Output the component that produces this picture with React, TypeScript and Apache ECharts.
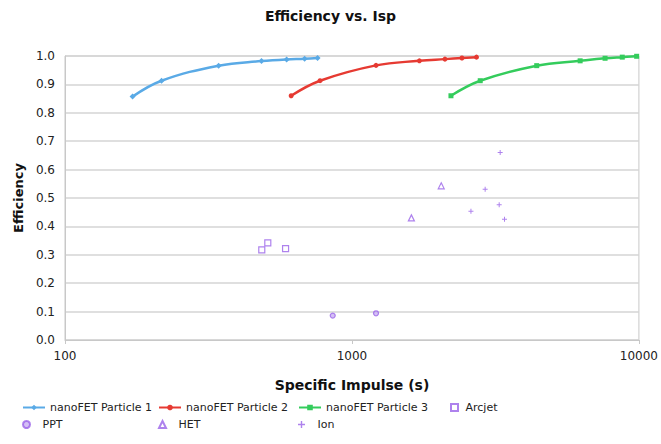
import React, { useEffect, useRef } from "react";
import * as echarts from "echarts";

const p1Isp = [172, 217, 343, 484, 592, 684, 759];
const p1Eff = [0.857, 0.913, 0.966, 0.982, 0.988, 0.99, 0.993];
const p2Isp = [614, 774, 1213, 1718, 2109, 2417, 2716];
const p2Eff = [0.86, 0.913, 0.967, 0.983, 0.989, 0.993, 0.996];
const p3Isp = [2213, 2799, 4404, 6240, 7622, 8750, 9820];
const p3Eff = [0.86, 0.913, 0.966, 0.983, 0.992, 0.996, 0.999];
const arcjetIsp = [485, 509, 587];
const arcjetEff = [0.317, 0.342, 0.322];
const pptIsp = [857, 1213];
const pptEff = [0.086, 0.094];
const hetIsp = [1611, 2047];
const hetEff = [0.43, 0.543];
const ionIsp = [3285, 2912, 3259, 2598, 3401];
const ionEff = [0.66, 0.531, 0.476, 0.453, 0.425];

const FONT = "DejaVu Sans";
const PURPLE = "#9a63e8";
const PLUS = "path://M4,0 L6,0 L6,4 L10,4 L10,6 L6,6 L6,10 L4,10 L4,6 L0,6 L0,4 L4,4 Z";
const SQUARE = "path://M0,0 L10,0 L10,10 L0,10 Z";
const TRI = "path://M5,0 L10,10 L0,10 Z";

const zip = (a: number[], b: number[]) => a.map((v, i) => [v, b[i]]);

export default function App() {
  const ref = useRef<HTMLDivElement>(null);
  useEffect(() => {
    const chart = echarts.init(ref.current!, null, { renderer: "svg" });
    const legendBase = {
      itemWidth: 22,
      itemHeight: 7,
      symbolKeepAspect: true,
      textStyle: { fontFamily: FONT, fontSize: 11, color: "#222" },
      padding: 0,
      itemGap: 4,
    };
    chart.setOption({
      animation: false,
      backgroundColor: "#fff",
      title: {
        text: "Efficiency vs. Isp",
        left: "center",
        top: 4,
        textStyle: { fontFamily: FONT, fontSize: 14, fontWeight: "bold", color: "#111" },
      },
      legend: [
        { ...legendBase, left: 22, top: 402, data: ["nanoFET Particle 1"] },
        { ...legendBase, left: 158, top: 402, data: ["nanoFET Particle 2"] },
        { ...legendBase, left: 298, top: 402, data: ["nanoFET Particle 3"] },
        { ...legendBase, left: 450, top: 402, itemWidth: 12, data: ["Arcjet"] },
        { ...legendBase, left: 22, top: 419, data: ["PPT"] },
        { ...legendBase, left: 158, top: 419, data: ["HET"] },
        { ...legendBase, left: 298, top: 419, data: ["Ion"] },
      ],
      grid: {
        left: 65,
        right: 21,
        top: 56,
        bottom: 104,
        show: true,
        borderColor: "#c8c8c8",
        borderWidth: 1,
      },
      xAxis: {
        type: "log",
        logBase: 10,
        min: 100,
        max: 10000,
        name: "Specific Impulse (s)",
        nameLocation: "middle",
        nameGap: 38,
        nameTextStyle: { fontFamily: FONT, fontSize: 14, fontWeight: "bold", color: "#111" },
        axisLine: { show: true, lineStyle: { color: "#c8c8c8" } },
        axisTick: { show: true, length: 4, lineStyle: { color: "#c8c8c8" } },
        splitLine: { show: false },
        axisLabel: {
          fontFamily: FONT,
          fontSize: 12,
          color: "#222",
          margin: 10,
          formatter: (v: number) => String(Math.round(v)),
        },
      },
      yAxis: {
        type: "value",
        min: 0,
        max: 1,
        interval: 0.1,
        name: "Efficiency",
        nameLocation: "middle",
        nameGap: 40,
        nameRotate: 90,
        nameTextStyle: { fontFamily: FONT, fontSize: 13, fontWeight: "bold", color: "#111" },
        axisLine: { show: true, lineStyle: { color: "#c8c8c8" } },
        axisTick: { show: false },
        splitLine: { show: true, lineStyle: { color: "#d4d4d4", width: 1.5 } },
        axisLabel: {
          fontFamily: FONT,
          fontSize: 12,
          color: "#222",
          margin: 10,
          formatter: (v: number) => v.toFixed(1),
        },
      },
      series: [
        {
          name: "nanoFET Particle 1",
          type: "line",
          smooth: 0.4,
          data: zip(p1Isp, p1Eff),
          symbol: "diamond",
          symbolSize: 6,
          lineStyle: { width: 2.5, color: "#5aaae6" },
          itemStyle: { color: "#5aaae6" },
        },
        {
          name: "nanoFET Particle 2",
          type: "line",
          smooth: 0.4,
          data: zip(p2Isp, p2Eff),
          symbol: "circle",
          symbolSize: 5,
          lineStyle: { width: 2.5, color: "#e63a32" },
          itemStyle: { color: "#e63a32" },
        },
        {
          name: "nanoFET Particle 3",
          type: "line",
          smooth: 0.4,
          data: zip(p3Isp, p3Eff),
          symbol: "rect",
          symbolSize: 5,
          lineStyle: { width: 2.5, color: "#34cc5c" },
          itemStyle: { color: "#34cc5c" },
        },
        {
          name: "Arcjet",
          type: "scatter",
          data: zip(arcjetIsp, arcjetEff),
          symbol: SQUARE,
          symbolSize: 6,
          itemStyle: { color: "#fff", borderColor: PURPLE, borderWidth: 1.2 },
        },
        {
          name: "PPT",
          type: "scatter",
          data: zip(pptIsp, pptEff),
          symbol: "circle",
          symbolSize: 5,
          itemStyle: { color: "#c9b0f2", borderColor: PURPLE, borderWidth: 1.2 },
        },
        {
          name: "HET",
          type: "scatter",
          data: zip(hetIsp, hetEff),
          symbol: TRI,
          symbolSize: 6,
          itemStyle: { color: "#fff", borderColor: PURPLE, borderWidth: 1.2 },
        },
        {
          name: "Ion",
          type: "scatter",
          data: zip(ionIsp, ionEff),
          symbol: PLUS,
          symbolSize: 5,
          itemStyle: { color: PURPLE },
        },
      ],
    });
    return () => chart.dispose();
  }, []);
  return <div ref={ref} style={{ width: 661, height: 444, position: "absolute", left: 0, top: 0 }} />;
}
